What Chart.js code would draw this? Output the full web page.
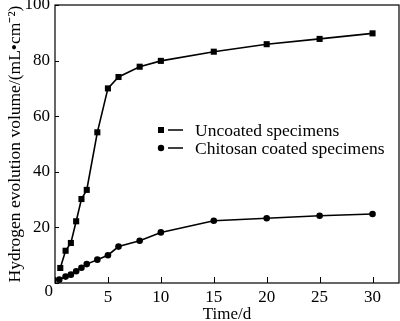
<!DOCTYPE html>
<html>
<head>
<meta charset="utf-8">
<script src="https://cdn.jsdelivr.net/npm/chart.js@4"></script>
<style>
html,body{margin:0;padding:0;background:#fff;}
#wrap{width:400px;height:321px;position:relative;}
</style>
</head>
<body>
<div id="wrap"><canvas id="c" width="400" height="321"></canvas></div>
<script>
const timeUncoated = [0.5, 1, 1.5, 2, 2.5, 3, 4, 5, 6, 8, 10, 15, 20, 25, 30];
const volUncoated  = [5.4, 11.6, 14.4, 22.2, 30.2, 33.5, 54.2, 70, 74.1, 77.8, 79.9, 83.2, 85.9, 87.8, 89.8];
const timeChitosan = [0.4, 1, 1.5, 2, 2.5, 3, 4, 5, 6, 8, 10, 15, 20, 25, 30];
const volChitosan  = [1.2, 2.3, 3.0, 4.2, 5.5, 6.8, 8.4, 10, 13.1, 15.2, 18.2, 22.4, 23.3, 24.2, 24.8];
const seriesNames = ['Uncoated specimens', 'Chitosan coated specimens'];
const xTicks = [0, 5, 10, 15, 20, 25, 30];
const yTicks = [0, 20, 40, 60, 80, 100];
const xTitle = 'Time/d';
const yTitle = 'Hydrogen evolution volume/(mL\u2022cm\u207B\u00B2)';

const FONT = '"Liberation Serif", "Times New Roman", serif';

function pts(xs, ys){ return xs.map((x,i)=>({x:x, y:ys[i]})); }

const framePlugin = {
  id: 'frame',
  afterDraw(chart){
    const ctx = chart.ctx, a = chart.chartArea;
    const xs = chart.scales.x, ys = chart.scales.y;
    ctx.save();
    ctx.strokeStyle = '#000';
    ctx.lineWidth = 1.2;
    ctx.strokeRect(a.left, a.top, a.right - a.left, a.bottom - a.top);
    ctx.lineWidth = 1;
    ctx.beginPath();
    xTicks.forEach(v => { const px = Math.round(xs.getPixelForValue(v)) + 0.5; ctx.moveTo(px, a.bottom); ctx.lineTo(px, a.bottom - 6); });
    yTicks.forEach(v => { const py = Math.round(ys.getPixelForValue(v)) + 0.5; ctx.moveTo(a.left, py); ctx.lineTo(a.left + 4, py); });
    ctx.stroke();
    // corner zero label
    ctx.fillStyle = '#000';
    ctx.font = '17px ' + FONT;
    ctx.textAlign = 'right';
    ctx.textBaseline = 'middle';
    ctx.fillText('0', a.left - 2, a.bottom + 9);
    // legend
    const lx = 161, rows = [130, 148];
    rows.forEach((ry, i) => {
      ctx.fillStyle = '#000';
      if (i === 0) { ctx.fillRect(lx - 3, ry - 3, 6, 6); }
      else { ctx.beginPath(); ctx.arc(lx, ry, 3.2, 0, Math.PI*2); ctx.fill(); }
      ctx.lineWidth = 1.5;
      ctx.beginPath(); ctx.moveTo(168, ry); ctx.lineTo(183, ry); ctx.stroke();
      ctx.textAlign = 'left';
      ctx.textBaseline = 'middle';
      ctx.font = '17.5px ' + FONT;
      ctx.fillText(seriesNames[i], 195, ry + 1);
    });
    ctx.restore();
  }
};

new Chart(document.getElementById('c'), {
  type: 'line',
  data: {
    datasets: [
      { label: seriesNames[0], data: pts(timeUncoated, volUncoated), borderColor:'#000', backgroundColor:'#000', borderWidth:1.6, pointStyle:'rect', pointRadius:4.3, pointBorderWidth:0, tension:0 },
      { label: seriesNames[1], data: pts(timeChitosan, volChitosan), borderColor:'#000', backgroundColor:'#000', borderWidth:1.6, pointStyle:'circle', pointRadius:3.3, pointBorderWidth:0, tension:0 }
    ]
  },
  options: {
    responsive: false,
    animation: false,
    devicePixelRatio: 1,
    layout: { autoPadding: false, padding: { top: 5, right: 1, left: 0, bottom: 0 } },
    plugins: { legend: { display: false }, tooltip: { enabled: false } },
    scales: {
      x: {
        type: 'linear', min: 0, max: 32.5,
        afterBuildTicks(s){ s.ticks = xTicks.map(v => ({value: v})); },
        afterFit(s){ s.height = 38; s.paddingLeft = 0; s.paddingRight = 0; },
        grid: { display: false, drawTicks: false },
        border: { display: false },
        ticks: { color:'#000', font:{ family: FONT, size: 17 }, padding: 4, maxRotation: 0,
                 callback: v => v === 0 ? '' : String(v) },
        title: { display: true, text: xTitle, color:'#000', font:{ family: FONT, size: 17 }, padding: { top: 0, bottom: -4 } }
      },
      y: {
        type: 'linear', min: 0, max: 100,
        afterBuildTicks(s){ s.ticks = yTicks.map(v => ({value: v})); },
        afterFit(s){ s.width = 55; s.paddingTop = 0; s.paddingBottom = 0; },
        grid: { display: false, drawTicks: false },
        border: { display: false },
        ticks: { color:'#000', font:{ family: FONT, size: 17 }, padding: 5,
                 callback: v => v === 0 ? '' : String(v) },
        title: { display: true, text: yTitle, color:'#000', font:{ family: FONT, size: 17.5 }, padding: { top: 5, bottom: 0 } }
      }
    }
  },
  plugins: [framePlugin]
});
</script>
</body>
</html>
